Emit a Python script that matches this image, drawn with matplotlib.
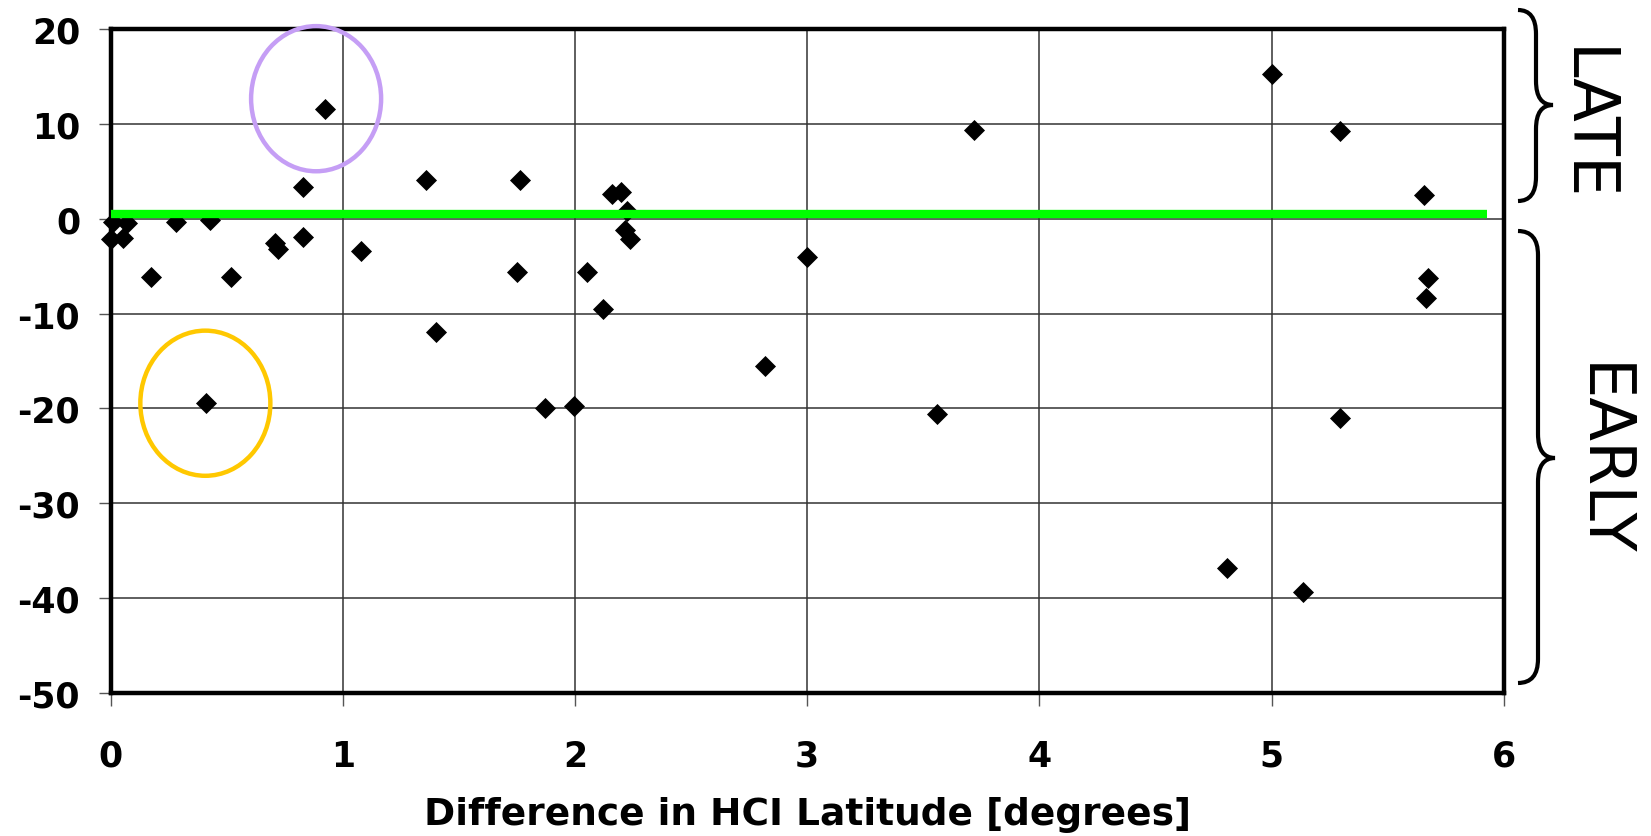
import matplotlib
matplotlib.use("Agg")
import matplotlib.pyplot as plt
from matplotlib.patches import Ellipse, PathPatch
from matplotlib.path import Path

plt.rcParams["axes.unicode_minus"] = False

# difference in HCI latitude [deg] vs. arrival time difference
lat_diff = [0.01, 0.07, 0.0, 0.055, 0.28, 0.43, 0.175, 0.52, 0.41, 0.71,
            0.72, 0.83, 0.83, 0.925, 1.08, 1.36, 1.40, 1.75, 1.765, 1.87,
            1.995, 2.05, 2.12, 2.16, 2.20, 2.225, 2.215, 2.235, 2.82, 3.0,
            3.56, 3.72, 4.81, 5.0, 5.135, 5.295, 5.295, 5.655, 5.675, 5.665]
time_diff = [-0.3, -0.5, -2.1, -2.0, -0.4, -0.1, -6.1, -6.1, -19.4, -2.6,
             -3.2, 3.3, -1.9, 11.6, -3.4, 4.1, -11.9, -5.6, 4.1, -20.0,
             -19.7, -5.6, -9.5, 2.6, 2.8, 0.8, -1.2, -2.1, -15.5, -4.0,
             -20.6, 9.4, -36.8, 15.3, -39.4, 9.25, -21.0, 2.45, -6.2, -8.4]

x_ticks = [0, 1, 2, 3, 4, 5, 6]
y_ticks = [20, 10, 0, -10, -20, -30, -40, -50]

fig = plt.figure(figsize=(16.51, 8.37), dpi=100)
ax = fig.add_axes([0.067, 0.1708, 0.8438, 0.7934])

ax.set_xlim(0, 6)
ax.set_ylim(-50, 20)
ax.set_xticks(x_ticks)
ax.set_yticks(y_ticks)
ax.grid(True, color="#333333", lw=1.1)
ax.set_axisbelow(True)
for s in ax.spines.values():
    s.set_linewidth(3.2)
ax.tick_params(direction="out", length=9, width=1, color="#555555",
               labelsize=25, top=False, right=False)
ax.tick_params(axis="x", pad=24)
ax.tick_params(axis="y", pad=13)
for lab in ax.get_xticklabels() + ax.get_yticklabels():
    lab.set_fontweight("bold")

ax.scatter(lat_diff, time_diff, marker="D", s=115, color="black", zorder=3,
           linewidths=0, clip_on=False)

# reference line just above zero
ax.plot([0, 5.93], [0.45, 0.45], color="#00ff00", lw=6, zorder=4,
        solid_capstyle="butt")

# highlighted events
ax.add_patch(Ellipse((0.885, 12.65), 0.56, 15.3, fill=False,
                     edgecolor="#c59ef5", lw=3.2, zorder=5, clip_on=False))
ax.add_patch(Ellipse((0.408, -19.45), 0.56, 15.3, fill=False,
                     edgecolor="#ffc800", lw=3.2, zorder=5))

ax.set_xlabel("Difference in HCI Latitude [degrees]", fontsize=27,
              fontweight="bold", labelpad=17)

# braces on the right, in figure pixels (y down)
over = fig.add_axes([0, 0, 1, 1], facecolor="none")
over.set_xlim(0, 1651)
over.set_ylim(837, 0)
over.axis("off")


def brace(xo, xs, xt, yt, ym, yb, r=24):
    verts = [(xo, yt), (xs, yt), (xs, yt + r),
             (xs, ym - r), (xs, ym), (xt, ym),
             (xs, ym), (xs, ym + r),
             (xs, yb - r), (xs, yb), (xo, yb)]
    codes = [Path.MOVETO, Path.CURVE3, Path.CURVE3,
             Path.LINETO, Path.CURVE3, Path.CURVE3,
             Path.CURVE3, Path.CURVE3,
             Path.LINETO, Path.CURVE3, Path.CURVE3]
    over.add_patch(PathPatch(Path(verts, codes), fill=False,
                             edgecolor="black", lw=3))


brace(1518, 1536, 1553, 11, 106, 202)
brace(1518, 1538, 1555, 232, 459, 684)
over.text(1585, 125, "LATE", rotation=-90, fontsize=46, ha="center",
          va="center")
over.text(1601, 460, "EARLY", rotation=-90, fontsize=46, ha="center",
          va="center")

fig.savefig("out.png", dpi=100)
